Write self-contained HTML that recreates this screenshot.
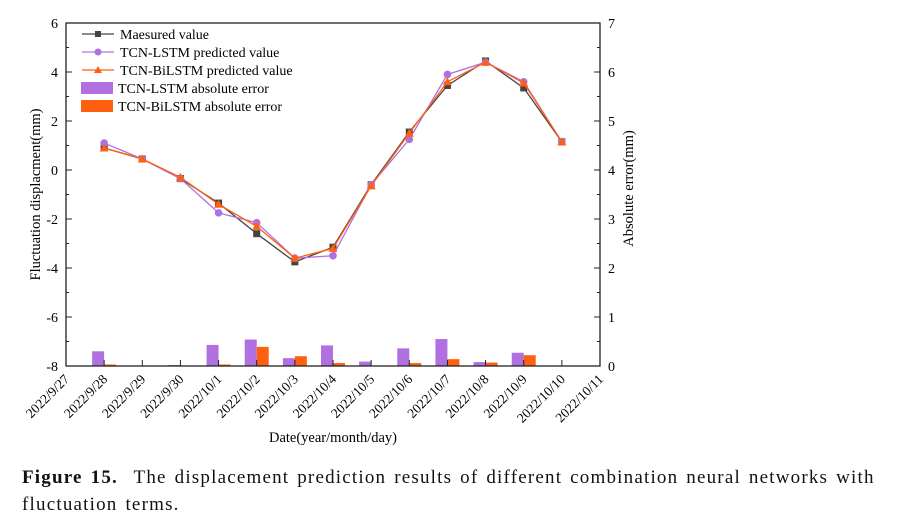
<!DOCTYPE html>
<html><head><meta charset="utf-8"><style>
body{margin:0;background:#fff;width:911px;height:526px;overflow:hidden;font-family:"Liberation Serif",serif}
#cap{position:absolute;left:22px;top:464px;font-size:19px;letter-spacing:1.2px;word-spacing:2px;line-height:27px;color:#111;width:880px;white-space:nowrap}
</style></head><body>
<svg id="chart" width="911" height="455" style="position:absolute;left:0;top:0" font-family="Liberation Serif, serif"></svg>
<div id="cap"><b>Figure 15.</b>&nbsp; The displacement prediction results of different combination neural networks with<br>fluctuation terms.</div>
<script>
const categories=["2022/9/27","2022/9/28","2022/9/29","2022/9/30","2022/10/1","2022/10/2","2022/10/3","2022/10/4","2022/10/5","2022/10/6","2022/10/7","2022/10/8","2022/10/9","2022/10/10","2022/10/11"];
const measured=[null,0.9,0.45,-0.35,-1.35,-2.6,-3.75,-3.15,-0.6,1.55,3.45,4.45,3.35,1.15,null];
const lstmPred=[null,1.1,0.45,-0.35,-1.75,-2.15,-3.6,-3.5,-0.6,1.25,3.9,4.4,3.6,1.15,null];
const bilstmPred=[null,0.9,0.45,-0.3,-1.4,-2.3,-3.6,-3.2,-0.65,1.5,3.6,4.4,3.55,1.15,null];
const lstmErr=[null,0.3,0,0.02,0.43,0.54,0.16,0.42,0.09,0.36,0.55,0.08,0.27,0,null];
const bilstmErr=[null,0.03,0,0,0.03,0.39,0.2,0.06,0,0.06,0.14,0.07,0.22,0,null];
const leftTicks=[6,4,2,0,-2,-4,-6,-8];
const rightTicks=[0,1,2,3,4,5,6,7];
const NS="http://www.w3.org/2000/svg",svg=document.getElementById('chart');
const L=66,R=600,T=23,B=366;
const x=i=>L+i*(R-L)/(categories.length-1);
const yl=v=>B-(v+8)*(B-T)/14;
const yr=v=>B-v*(B-T)/7;
function mk(t,a,p){const e=document.createElementNS(NS,t);for(const k in a)e.setAttribute(k,a[k]);(p||svg).appendChild(e);return e;}
lstmErr.forEach((v,i)=>{if(v===null)return;const r=mk('rect',{x:x(i)-12,y:yr(v),width:12,height:B-yr(v),fill:'#b070e0'});

});
bilstmErr.forEach((v,i)=>{if(v===null)return;const r=mk('rect',{x:x(i),y:yr(v),width:12,height:B-yr(v),fill:'#ff6010'});

});
const fr=mk('rect',{x:L,y:T,width:R-L,height:B-T,fill:'none',stroke:'#222','stroke-width':1.3});


leftTicks.forEach(v=>{mk('line',{x1:L,x2:L+6,y1:yl(v),y2:yl(v),stroke:'#222'});
if(v>-8)mk('line',{x1:L,x2:L+3,y1:yl(v-1),y2:yl(v-1),stroke:'#222'});
const t=mk('text',{x:L-8,y:yl(v)+5,'text-anchor':'end','font-size':14});t.textContent=v;

});
rightTicks.forEach(v=>{mk('line',{x1:R,x2:R-6,y1:yr(v),y2:yr(v),stroke:'#222'});
if(v<7)mk('line',{x1:R,x2:R-3,y1:yr(v+0.5),y2:yr(v+0.5),stroke:'#222'});
const t=mk('text',{x:R+8,y:yr(v)+5,'font-size':14});t.textContent=v;

});
categories.forEach((c,i)=>{mk('line',{x1:x(i),x2:x(i),y1:B,y2:B-6,stroke:'#222'});
const t=mk('text',{transform:`translate(${x(i)+4},${B+14}) rotate(-45)`,'text-anchor':'end','font-size':13.5});t.textContent=c;

});
function series(d,col,name,marker){const pts=[];d.forEach((v,i)=>{if(v!==null)pts.push([x(i),yl(v)]);});
const p=mk('polyline',{points:pts.map(q=>q.join(',')).join(' '),fill:'none',stroke:col,'stroke-width':1.3});


pts.forEach(([a,b])=>{let m;
if(marker==='sq')m=mk('rect',{x:a-3.5,y:b-3.5,width:7,height:7,fill:col});
else if(marker==='c')m=mk('circle',{cx:a,cy:b,r:3.8,fill:col});
else m=mk('polygon',{points:`${a},${b-4.5} ${a-4.5},${b+3.5} ${a+4.5},${b+3.5}`,fill:col});

});}
series(measured,'#444','measured','sq');
series(lstmPred,'#b070e0','lstm-pred','c');
series(bilstmPred,'#ff6010','bilstm-pred','t');
const lg=mk('g',{});


const items=[['Maesured value','#444','sq'],['TCN-LSTM predicted value','#b070e0','c'],['TCN-BiLSTM predicted value','#ff6010','t'],['TCN-LSTM absolute error','#b070e0','bar'],['TCN-BiLSTM absolute error','#ff6010','bar']];
items.forEach((it,k)=>{const y=34+k*18;
if(it[2]==='bar')mk('rect',{x:81,y:y-6,width:32,height:12,fill:it[1]},lg);
else{mk('line',{x1:82,x2:114,y1:y,y2:y,stroke:it[1],'stroke-width':1.3},lg);
if(it[2]==='sq')mk('rect',{x:95,y:y-3,width:6,height:6,fill:it[1]},lg);
else if(it[2]==='c')mk('circle',{cx:98,cy:y,r:3.5,fill:it[1]},lg);
else mk('polygon',{points:`98,${y-4} 94,${y+3} 102,${y+3}`,fill:it[1]},lg);}
const t=mk('text',{x:it[2]==='bar'?118:120,y:y+5,'font-size':14},lg);t.textContent=it[0];

});
let t=mk('text',{transform:`translate(40,${(T+B)/2}) rotate(-90)`,'text-anchor':'middle','font-size':14.5});t.textContent='Fluctuation displacment(mm)';


t=mk('text',{transform:`translate(633,${(T+B)/2-6}) rotate(-90)`,'text-anchor':'middle','font-size':14.5});t.textContent='Absolute error(mm)';


t=mk('text',{x:333,y:442,'text-anchor':'middle','font-size':14.5});t.textContent='Date(year/month/day)';


</script>
</body></html>
